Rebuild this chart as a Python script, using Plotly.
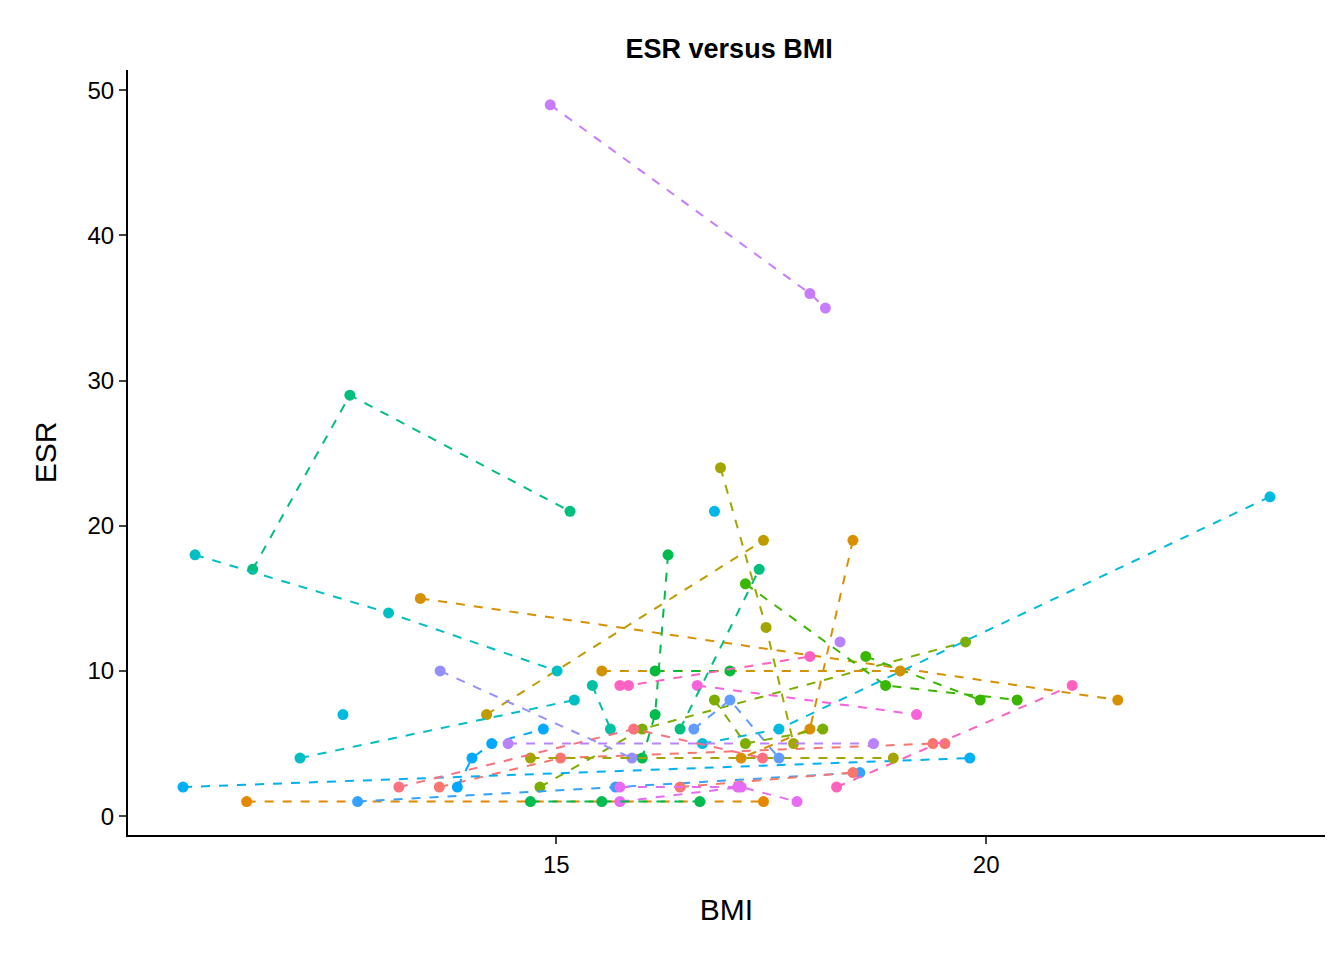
import plotly.graph_objects as go

# each subject: BMI values, ESR values, colour
subject_bmi = [
    [13.64, 15.05, 19.38, 19.52],
    [11.40, 17.41],
    [13.42, 21.53],
    [14.19, 17.41],
    [16.91, 17.44, 17.76],
    [14.81, 16.00, 19.76],
    [17.20, 18.83, 20.36],
    [16.30, 16.15, 16.00],
    [11.47, 12.60, 15.16],
    [15.42, 15.63],
    [10.80, 13.05, 15.01],
    [16.70, 17.59, 23.30],
    [10.66, 19.81],
    [12.69, 15.69, 18.53],
    [13.65, 15.88],
    [14.93, 17.95, 18.13],
    [15.74, 17.15, 17.80],
    [16.64, 19.19],
    [18.26, 21.00],
    [12.02, 15.21],
    [12.52],
    [16.84],
    [16.44, 17.36],
    [18.60, 19.93],
    [18.45, 17.95, 17.15],
    [15.53, 19.00],
    [16.15, 17.02],
    [18.30],
    [15.74, 15.84, 17.95],
    [13.85, 14.02, 14.25, 14.85],
    [14.44, 18.69],
    [16.44, 18.45],
    [14.70, 15.53, 16.67],
    [15.74, 17.11],
    [14.70, 18.92],
    [13.17, 15.90, 17.40],
    [16.60, 17.02, 17.59],
    [16.84, 17.20, 18.10],
]
subject_esr = [
    [2, 4, 5, 5],
    [1, 1],
    [15, 8],
    [7, 19],
    [24, 13, 5],
    [2, 6, 12],
    [16, 9, 8],
    [18, 7, 4],
    [17, 29, 21],
    [9, 6],
    [18, 14, 10],
    [5, 6, 22],
    [2, 4],
    [1, 2, 3],
    [10, 4],
    [49, 36, 35],
    [1, 2, 1],
    [9, 7],
    [2, 9],
    [4, 8],
    [7],
    [21],
    [6, 17],
    [11, 8],
    [19, 6, 4],
    [10, 10],
    [10, 10],
    [12],
    [9, 9, 11],
    [2, 4, 5, 6],
    [5, 5],
    [2, 3],
    [1, 1, 1],
    [2, 2],
    [4, 4],
    [2, 6, 4],
    [6, 8, 4],
    [8, 5, 6],
]
subject_colors = [
    "#F8766D", "#E58700", "#D89000", "#C09B00", "#A3A500", "#7CAE00",
    "#39B600", "#00BB4E", "#00BF7D", "#00C1A3", "#00BFC4", "#00BAE0",
    "#00B0F6", "#35A2FF", "#9590FF", "#C77CFF", "#E76BF3", "#FA62DB",
    "#FF62BC", "#00BFC4", "#00BAE0", "#00B8E7", "#00BF7D", "#39B600",
    "#D89000", "#D39200", "#00BA38", "#B983FF", "#FF61C3", "#00A9FF",
    "#B983FF", "#F8766D", "#00BB4E", "#E76BF3", "#A3A500", "#FC717F",
    "#619CFF", "#7CAE00",
]

fig = go.Figure()
for bmi, esr, col in zip(subject_bmi, subject_esr, subject_colors):
    fig.add_trace(go.Scatter(
        x=bmi, y=esr, mode="lines+markers",
        line=dict(color=col, dash="dash", width=2),
        marker=dict(color=col, size=11),
        showlegend=False,
    ))

fig.update_layout(
    autosize=True,
    paper_bgcolor="white", plot_bgcolor="white",
    margin=dict(l=120, r=11, t=62, b=133),
    font=dict(family="Liberation Sans, Arial, sans-serif", color="black"),
    title=dict(text="<b>ESR versus BMI</b>", x=0.543, xanchor="center",
               y=0.968, font=dict(size=27)),
    xaxis=dict(
        title=dict(text="BMI", font=dict(size=30), standoff=22),
        range=[10.02, 23.94], tickvals=[15, 20], showgrid=False, zeroline=False,
        showline=True, linecolor="black", linewidth=2,
        ticks="outside", ticklen=7, tickwidth=2, tickfont=dict(size=24),
    ),
    yaxis=dict(
        title=dict(text="ESR", font=dict(size=30), standoff=22),
        range=[-1.3, 51.4], tickvals=[0, 10, 20, 30, 40, 50], showgrid=False,
        zeroline=False, showline=True, linecolor="black", linewidth=2,
        ticks="outside", ticklen=7, tickwidth=2, tickfont=dict(size=24),
    ),
)

fig.write_html("out.html", default_height="100vh", default_width="100%")
